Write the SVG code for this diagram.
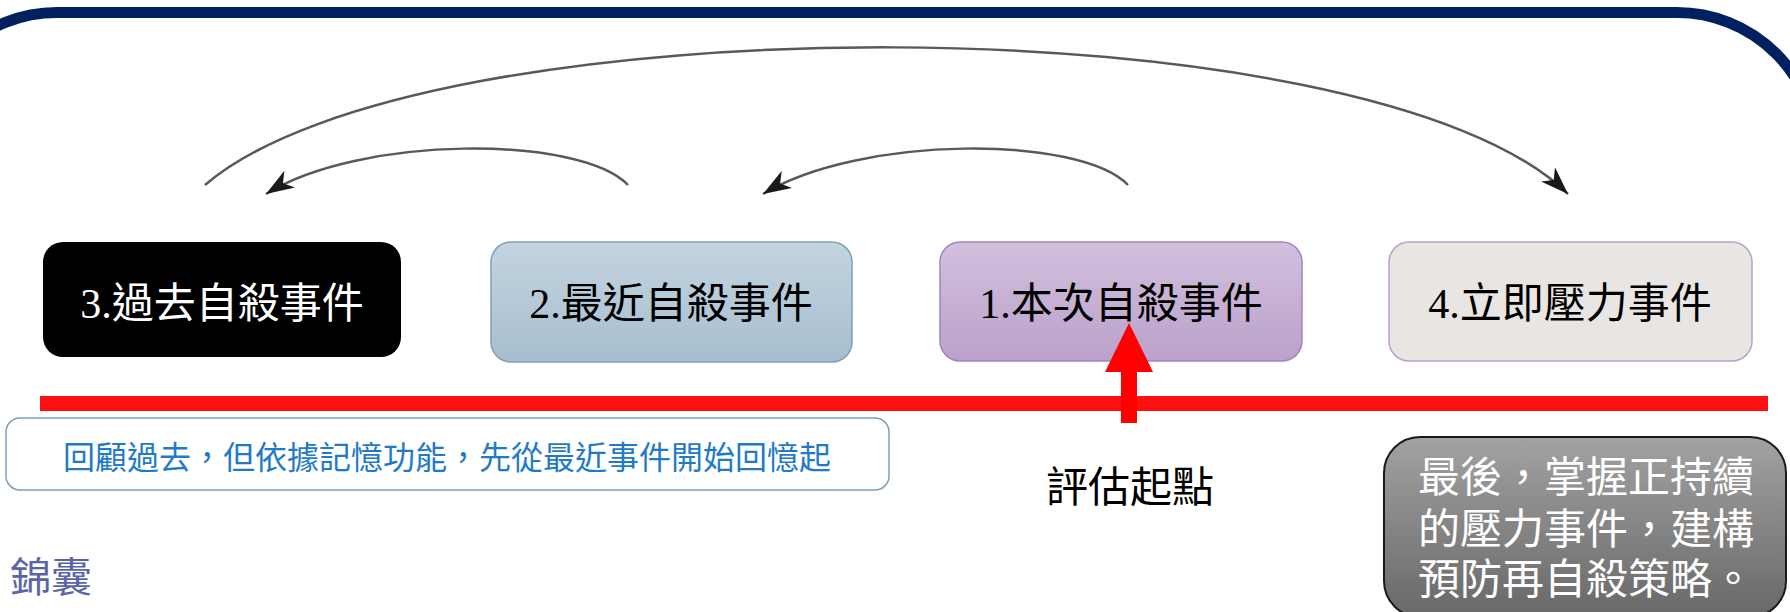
<svg xmlns="http://www.w3.org/2000/svg" width="1790" height="612" viewBox="0 0 1790 612">
<defs>
<style>
.t{font-family:"Liberation Serif","Noto Sans CJK TC",serif;}
.lbl{font-size:42px;text-anchor:middle;}
.arc{fill:none;stroke:#595959;stroke-width:2.5;}
</style>
<linearGradient id="gBlue" x1="0" y1="0" x2="0" y2="1"><stop offset="0" stop-color="#C4D4DF"/><stop offset="1" stop-color="#A6BED0"/></linearGradient>
<linearGradient id="gPurp" x1="0" y1="0" x2="0" y2="1"><stop offset="0" stop-color="#D2C0DE"/><stop offset="1" stop-color="#BAA1CA"/></linearGradient>
<linearGradient id="gGray" x1="0" y1="0" x2="0" y2="1"><stop offset="0" stop-color="#A2A2A2"/><stop offset="1" stop-color="#686868"/></linearGradient>
<marker id="ah" markerUnits="userSpaceOnUse" markerWidth="30" markerHeight="20" refX="28" refY="10" orient="auto" viewBox="0 0 30 20"><path d="M0,0 L28,10 L0,20 L8,10 z" fill="#1a1a1a"/></marker>
</defs>
<rect width="1790" height="612" fill="#FFFFFF"/>
<rect id="frame" x="-83" y="12.5" width="1900" height="800" rx="140" ry="140" fill="none" stroke="#002060" stroke-width="11"/>
<g id="connectors">
<path class="arc" d="M205,185 C420,0 1370,0 1568,194" marker-end="url(#ah)"/>
<path class="arc" d="M628,185 C580,135 360,135 266,194" marker-end="url(#ah)"/>
<path class="arc" d="M1128,185 C1080,135 860,135 763,194" marker-end="url(#ah)"/>
</g>
<g id="node3"><rect x="43" y="242" width="358" height="115" rx="20" fill="#000000"/><text class="t lbl" x="222" y="318" fill="#FFFFFF">3.過去自殺事件</text></g>
<g id="node2"><rect x="491" y="242" width="361" height="120" rx="20" fill="url(#gBlue)" stroke="#7F9FB8" stroke-width="1.5"/><text class="t lbl" x="671" y="318" fill="#000000">2.最近自殺事件</text></g>
<g id="node1"><rect x="940" y="242" width="362" height="119" rx="20" fill="url(#gPurp)" stroke="#A484C0" stroke-width="1.5"/><text class="t lbl" x="1121" y="318" fill="#000000">1.本次自殺事件</text></g>
<g id="node4"><rect x="1389" y="242" width="363" height="119" rx="20" fill="#E8E5E2" stroke="#B8A0CC" stroke-width="1.5"/><text class="t lbl" x="1570" y="318" fill="#000000">4.立即壓力事件</text></g>
<g id="timeline"><rect x="40" y="396" width="1728" height="15" fill="#FF1010"/></g>
<g id="startArrow"><path d="M1129,323 L1153,372 L1137,372 L1137,423 L1121,423 L1121,372 L1105,372 z" fill="#FF0000"/></g>
<g id="startLabel"><text class="t lbl" x="1130" y="502" fill="#000000">評估起點</text></g>
<g id="noteBox"><rect x="6" y="418" width="883" height="72" rx="14" fill="#FFFFFF" stroke="#7F9FB8" stroke-width="1.5"/><text class="t" x="447" y="469" font-size="32" text-anchor="middle" fill="#1F7BC8">回顧過去，但依據記憶功能，先從最近事件開始回憶起</text></g>
<g id="tip"><text class="t" x="10" y="592" font-size="41" fill="#5C64A8">錦囊</text></g>
<g id="finalBox"><rect x="1384" y="437" width="402" height="180" rx="36" fill="url(#gGray)" stroke="#1a1a1a" stroke-width="2"/>
<text class="t" font-size="42" fill="#FFFFFF"><tspan x="1418" y="492">最後，掌握正持續</tspan><tspan x="1418" y="544">的壓力事件，建構</tspan><tspan x="1418" y="594">預防再自殺策略。</tspan></text></g>
</svg>
